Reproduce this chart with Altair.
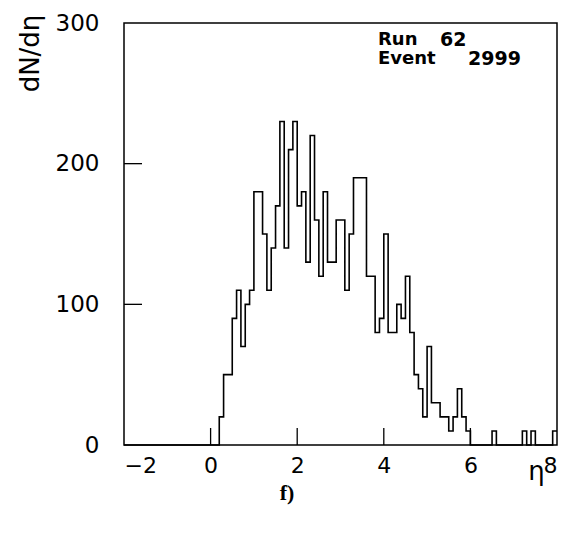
import altair as alt
import pandas as pd

# dN/d(eta) per 0.1-wide eta bin (bin lower edges), single event
bin_lo = [0.2, 0.3, 0.4, 0.5, 0.6, 0.7, 0.8, 0.9, 1.0, 1.1,
          1.2, 1.3, 1.4, 1.5, 1.6, 1.7, 1.8, 1.9, 2.0, 2.1,
          2.2, 2.3, 2.4, 2.5, 2.6, 2.7, 2.8, 2.9, 3.0, 3.1,
          3.2, 3.3, 3.4, 3.5, 3.6, 3.7, 3.8, 3.9, 4.0, 4.1,
          4.2, 4.3, 4.4, 4.5, 4.6, 4.7, 4.8, 4.9, 5.0, 5.1,
          5.2, 5.3, 5.4, 5.5, 5.6, 5.7, 5.8, 5.9,
          6.5, 7.2, 7.4, 7.9]
dn_deta = [20, 50, 50, 90, 110, 70, 100, 110, 180, 180,
           150, 110, 140, 170, 230, 140, 210, 230, 170, 180,
           130, 220, 160, 120, 180, 130, 130, 160, 160, 110,
           150, 190, 190, 190, 120, 120, 80, 90, 150, 80,
           80, 100, 90, 120, 80, 50, 40, 20, 70, 30,
           30, 20, 20, 10, 20, 40, 20, 10,
           10, 10, 10, 10]

x_ticks = [-2, 0, 2, 4, 6, 8]
y_ticks = [0, 100, 200, 300]
x_inner_ticks = [0, 2, 4, 6]
y_inner_ticks = [100, 200]

W, H = 433, 422
LABEL_FONT = "DejaVu Sans"

# step outline over the full eta range, empty bins at zero
counts = {round(e, 1): v for e, v in zip(bin_lo, dn_deta)}
xs, ys = [], []
for i in range(101):
    e = round(-2 + 0.1 * i, 1)
    xs.append(e)
    ys.append(counts.get(e, 0) if i < 100 else ys[-1])
hist = pd.DataFrame({"eta": xs, "dn": ys})

xscale = alt.Scale(domain=[-2, 8], nice=False, zero=False)
yscale = alt.Scale(domain=[0, 300], nice=False)

line = alt.Chart(hist).mark_line(
    interpolate="step-after", color="black", strokeWidth=1.6
).encode(
    x=alt.X("eta:Q", scale=xscale,
            axis=alt.Axis(values=x_ticks, title="η", ticks=False, tickSize=0,
                          domain=False, grid=False, labelPadding=10,
                          labelFont=LABEL_FONT, labelFontSize=22,
                          labelFontWeight="normal", labelColor="black",
                          titleX=412, titleY=26, titleAlign="center",
                          titleBaseline="middle", titleFont=LABEL_FONT,
                          titleFontSize=26, titleFontWeight="normal",
                          titleColor="black")),
    y=alt.Y("dn:Q", scale=yscale,
            axis=alt.Axis(values=y_ticks, title="dN/dη", ticks=False, tickSize=0,
                          domain=False, grid=False, labelPadding=25,
                          labelFont=LABEL_FONT, labelFontSize=23,
                          labelFontWeight="normal", labelColor="black",
                          titleAngle=270, titleX=-94, titleY=30,
                          titleAlign="center", titleBaseline="middle",
                          titleFont=LABEL_FONT, titleFontSize=26,
                          titleFontWeight="normal", titleColor="black")),
)

xt = alt.Chart(pd.DataFrame({"t": x_inner_ticks})).mark_rule(
    color="black", strokeWidth=1.3
).encode(x=alt.X("t:Q", scale=xscale), y=alt.value(H), y2=alt.value(H - 17))

yt = alt.Chart(pd.DataFrame({"t": y_inner_ticks})).mark_rule(
    color="black", strokeWidth=1.3
).encode(y=alt.Y("t:Q", scale=yscale), x=alt.value(0), x2=alt.value(18))

# run / event stamp in the upper right corner
words = pd.DataFrame({"txt": ["Run", "Event"], "px": [254, 254], "py": [17, 36]})
nums = pd.DataFrame({"txt": ["62", "2999"], "px": [316, 344], "py": [17, 36]})

info_words = alt.Chart(words).mark_text(
    align="left", baseline="middle", font="DejaVu Sans", fontWeight="bold",
    fontSize=18, color="black"
).encode(x=alt.X("px:Q", scale=None), y=alt.Y("py:Q", scale=None), text="txt:N")

info_nums = alt.Chart(nums).mark_text(
    align="left", baseline="middle", font="DejaVu Sans", fontWeight="bold",
    fontSize=19, color="black"
).encode(x=alt.X("px:Q", scale=None), y=alt.Y("py:Q", scale=None), text="txt:N")

panel = alt.Chart(pd.DataFrame({"txt": ["f)"]})).mark_text(
    align="center", baseline="middle", font="Liberation Serif", fontWeight="bold",
    fontSize=22, color="black"
).encode(x=alt.value(163), y=alt.value(H + 48), text="txt:N")

chart = alt.layer(line, xt, yt, info_words, info_nums, panel).properties(
    width=W, height=H,
    autosize="none",
    padding={"left": 124, "top": 23, "right": 13, "bottom": 89},
).configure_view(
    stroke="black", strokeWidth=1.5
)

chart.save("out.html", embed_options={"renderer": "svg", "actions": False})
